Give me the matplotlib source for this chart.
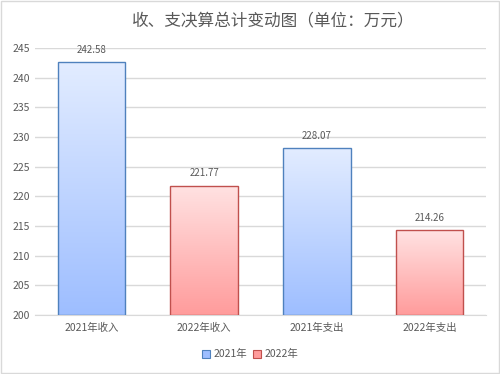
import matplotlib.pyplot as plt
import numpy as np
from matplotlib.patches import Rectangle

plt.rcParams['font.family'] = ['Noto Sans CJK SC', 'DejaVu Sans']

# data
categories = ["2021年收入", "2022年收入", "2021年支出", "2022年支出"]
values = [242.58, 221.77, 228.07, 214.26]
series = ["2021年", "2022年", "2021年", "2022年"]
yticks = [200, 205, 210, 215, 220, 225, 230, 235, 240, 245]

# colour styles per series
styles = {
    "2021年": {"top": "#e2ecff", "bottom": "#9ebeff", "edge": "#4f81bd"},
    "2022年": {"top": "#ffe2e2", "bottom": "#ff9c9c", "edge": "#c0504d"},
}

txt = "#595959"

fig = plt.figure(figsize=(5.0, 3.74), dpi=100)
ax = fig.add_axes([0.07, 0.158, 0.902, 0.714])

x = np.arange(len(categories))
width = 0.6
ax.set_xlim(-0.5, len(categories) - 0.5)
ax.set_ylim(200, 245)


def gradient_bar(ax, xc, h, st):
    top = np.array([int(st["top"][i:i + 2], 16) for i in (1, 3, 5)]) / 255
    bot = np.array([int(st["bottom"][i:i + 2], 16) for i in (1, 3, 5)]) / 255
    t = np.linspace(0, 1, 64)[:, None]
    img = (bot * (1 - t) + top * t)[:, None, :]
    x0 = xc - width / 2
    im = ax.imshow(img, extent=(x0, x0 + width, 200, h), origin="lower",
                   aspect="auto", zorder=2, interpolation="bilinear")
    r = Rectangle((x0, 200), width, h - 200, fill=False,
                  edgecolor=st["edge"], linewidth=1.0, zorder=3)
    ax.add_patch(r)
    im.set_clip_path(r)


for xi, v, s in zip(x, values, series):
    gradient_bar(ax, xi, v, styles[s])
    ax.text(xi, v + 1.3, f"{v:.2f}", ha="center", va="bottom",
            fontsize=7, color=txt)

ax.set_yticks(yticks)
ax.set_xticks(x)
ax.set_xticklabels(categories)
ax.tick_params(axis="both", length=0, labelsize=7.5, labelcolor=txt)
ax.tick_params(axis="x", pad=6)
ax.grid(axis="y", color="#d9d9d9", linewidth=1.0, zorder=0)
ax.set_axisbelow(True)
for sp in ["top", "right", "left"]:
    ax.spines[sp].set_visible(False)
ax.spines["bottom"].set_color("#d9d9d9")

fig.text(0.546, 0.945, "收、支决算总计变动图（单位：万元）", ha="center",
         va="center", fontsize=12, color=txt)

handles = [Rectangle((0, 0), 1, 1, facecolor=styles[k]["bottom"],
                     edgecolor=styles[k]["edge"], linewidth=0.8)
           for k in ["2021年", "2022年"]]
fig.legend(handles, ["2021年", "2022年"], loc="center", ncol=2,
           bbox_to_anchor=(0.5, 0.053), frameon=False, fontsize=7.5,
           labelcolor=txt, handlelength=0.8, handleheight=0.8,
           handletextpad=0.3, columnspacing=0.6)

fig.patches.append(Rectangle((0.002, 0.003), 0.996, 0.994, transform=fig.transFigure,
                             fill=False, edgecolor="#d9d9d9", linewidth=1.0))

fig.savefig("out.png", dpi=100)
